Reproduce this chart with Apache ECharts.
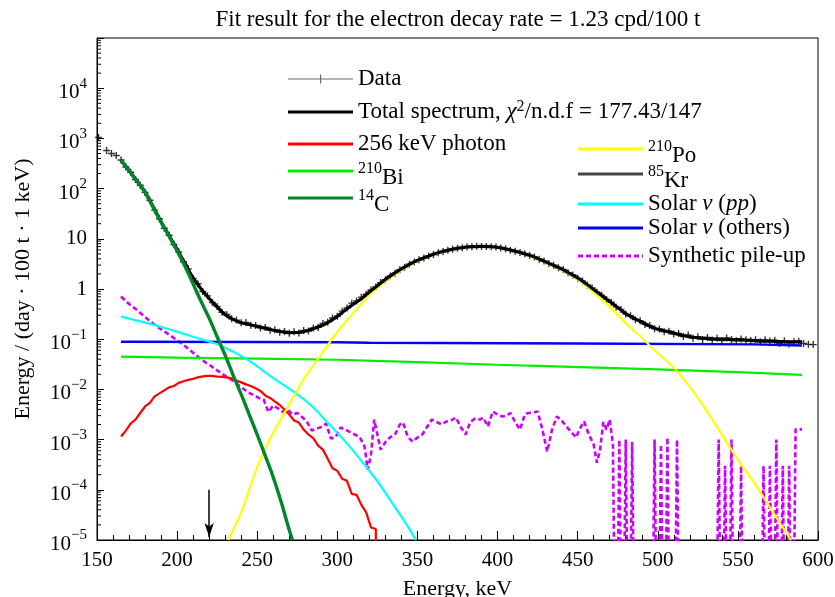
<!DOCTYPE html>
<html><head><meta charset="utf-8">
<script src="https://cdn.jsdelivr.net/npm/echarts@6/dist/echarts.min.js"></script>
<style>html,body{margin:0;padding:0;background:#fff}#c{width:835px;height:597px}</style>
</head><body><div id="c"></div>
<script>
// ---------------- data ----------------
const TITLE = 'Fit result for the electron decay rate = 1.23 cpd/100 t';
const X_TITLE = 'Energy, keV';
const Y_TITLE = 'Energy / (day · 100 t · 1 keV)';

const DATA_E = [151,156,159,162,165,168,171,174,177,180,183,186,189,192,195,198,201,204,207,210,213,216,219,222,225,228,231,234,237,240,243,246,249,252,255,258,261,264,267,270,273,276,279,282,285,288,291,294,297,300,303,306,309,312,315,318,321,324,327,330,333,336,339,342,345,348,351,354,357,360,363,366,369,372,375,378,381,384,387,390,393,396,399,402,405,408,411,414,417,420,423,426,429,432,435,438,441,444,447,450,453,456,459,462,465,468,471,474,477,480,483,486,489,492,495,498,501,504,507,510,513,516,519,522,525,528,531,534,537,540,543,546,549,552,555,558,561,564,567,570,573,576,579,582,585,588,591,594,597];
const DATA_V = [1040,575,500,455,372,270,212,152,117,84,58.5,37.2,25.0,16.2,11.8,7.7,5.5,3.5,2.52,1.62,1.27,0.89,0.73,0.54,0.45,0.345,0.31,0.255,0.24,0.212,0.215,0.19,0.188,0.168,0.171,0.150,0.155,0.137,0.142,0.131,0.140,0.133,0.149,0.146,0.168,0.172,0.205,0.218,0.265,0.288,0.362,0.420,0.522,0.580,0.688,0.785,0.955,1.10,1.34,1.53,1.82,2.07,2.42,2.70,3.11,3.45,3.82,4.15,4.55,4.87,5.28,5.60,5.92,6.21,6.49,6.65,6.90,6.95,7.08,7.05,7.06,6.92,6.84,6.55,6.34,5.94,5.68,5.32,5.04,4.65,4.34,3.93,3.61,3.22,2.98,2.65,2.44,2.10,1.91,1.63,1.45,1.20,1.05,0.86,0.755,0.62,0.545,0.44,0.392,0.316,0.293,0.245,0.233,0.197,0.187,0.162,0.160,0.141,0.144,0.127,0.130,0.113,0.121,0.104,0.112,0.099,0.108,0.096,0.105,0.094,0.106,0.099,0.093,0.101,0.097,0.094,0.098,0.089,0.097,0.092,0.095,0.082,0.093,0.080,0.089,0.091,0.082,0.079,0.078];

const TOTAL_E = [165,170,175,180,185,190,195,200,205,210,215,220,225,230,235,240,245,250,255,260,265,270,275,280,285,290,295,300,305,310,315,320,325,330,335,340,345,350,355,360,365,370,375,380,385,390,395,400,405,410,415,420,425,430,435,440,445,450,455,460,465,470,475,480,485,490,495,500,505,510,515,520,525,530,535,540,550,560,570,580,590];
const TOTAL_V = [367,229,141,85,43.6,21.9,11.6,6.17,3.2,1.66,1.0,0.646,0.437,0.306,0.248,0.212,0.196,0.180,0.166,0.151,0.141,0.135,0.136,0.145,0.162,0.185,0.225,0.285,0.38,0.50,0.64,0.875,1.16,1.55,2.0,2.51,3.09,3.72,4.27,4.90,5.50,6.03,6.46,6.84,7.00,7.08,7.00,6.76,6.31,5.75,5.25,4.68,4.07,3.47,2.95,2.51,2.04,1.66,1.29,0.977,0.741,0.562,0.427,0.324,0.263,0.219,0.182,0.158,0.145,0.132,0.120,0.112,0.107,0.1035,0.1015,0.100,0.0977,0.0933,0.0912,0.0891,0.0881];

const PHOTON_E = [165,168,171,174,177,180,183,186,189,192,195,198,201,204,207,210,213,216,219,222,225,228,231,234,237,240,243,246,249,252,255,258,261,264,267,270,273,276,279,282,285,288,291,294,297,300,303,306,309,312,315,318,321,324,325];
const PHOTON_V = [0.00115,0.00151,0.00209,0.00251,0.00339,0.00457,0.00537,0.00724,0.00832,0.00955,0.0110,0.0117,0.0135,0.0145,0.0155,0.0162,0.0174,0.0182,0.0186,0.0186,0.0180,0.0178,0.0174,0.0166,0.0151,0.0138,0.0126,0.0117,0.0105,0.00933,0.00759,0.00676,0.00575,0.0049,0.00398,0.00316,0.0024,0.00219,0.00158,0.00126,0.00107,0.000759,0.000631,0.000417,0.000269,0.00024,0.000166,0.000151,0.0000832,0.0000794,0.0000501,0.0000355,0.0000178,0.0000166,0];

const BI_E = [165,200,250,300,350,400,430,500,550,590];
const BI_V = [0.045,0.043,0.041,0.039,0.035,0.031,0.029,0.025,0.022,0.0195];

const C14_E = [165,170,175,180,185,190,195,200,205,210,215,220,225,230,235,240,245,250,255,260,265,270,272];
const C14_V = [367,229,141,85,42.7,21.4,11.2,5.75,2.82,1.26,0.562,0.263,0.112,0.0479,0.0191,0.00794,0.00316,0.00126,0.000479,0.000178,0.0000562,0.0000158,0.00001];

const PO_E = [232,240,250,260,270,280,290,300,310,320,330,340,350,360,370,380,390,400,410,420,430,440,450,460,470,480,490,500,510,520,530,540,550,560,570,583];
const PO_V = [0.00001,0.0000355,0.000282,0.00138,0.00501,0.0178,0.0501,0.141,0.331,0.759,1.42,2.38,3.59,4.77,5.90,6.71,6.95,6.63,5.62,4.55,3.35,2.39,1.54,0.857,0.442,0.209,0.107,0.0525,0.0269,0.0112,0.00398,0.00126,0.000398,0.000141,0.0000447,0.00001];

const KR_E = [];
const KR_V = [];

const PP_E = [165,175,185,195,205,215,225,235,245,255,265,275,285,295,305,315,325,335,345,349];
const PP_V = [0.282,0.234,0.195,0.158,0.126,0.100,0.0794,0.0562,0.0372,0.0219,0.0132,0.00794,0.00437,0.0020,0.000912,0.00038,0.000148,0.0000501,0.0000166,0.00001];

const OTH_E = [165,250,300,320,450,560,590];
const OTH_V = [0.089,0.088,0.087,0.085,0.082,0.079,0.075];

const PILE_E = [165,170,175,180,185,190,195,200,205,210,215,220,225,230,235,240,244,248,251,254,257,260,263,266,269,272,275,278,281,284,287,290,293,296,299,302,305,308,311,314,317,319,321,323,325,327,330,333,336,339,341,344,347,350,353,356,359,362,365,368,371,374,377,380,383,386,389,391,394,397,400,403,406,408,411,414,417,419,422,425,428,431,434,437,440,443,446,449,451,454,457,460,462,464,466,468,470,472,474,476,478,480,482,484,486,496,498,500,502,504,506,508,510,512,514,536,538,540,542,544,546,548,550,552,554,564,566,568,570,572,574,576,578,580,582,584,586,590];
const PILE_V = [0.708,0.501,0.380,0.275,0.204,0.158,0.123,0.0955,0.0724,0.0537,0.0398,0.0309,0.0240,0.0186,0.0148,0.0110,0.00891,0.00759,0.00676,0.00631,0.00355,0.00479,0.00417,0.00355,0.00398,0.00316,0.00339,0.00282,0.00229,0.00151,0.00166,0.00178,0.00209,0.00105,0.00112,0.00174,0.00158,0.00141,0.00126,0.00112,0.000724,0.000251,0.000501,0.00251,0.00126,0.000631,0.000891,0.00112,0.00126,0.00200,0.00219,0.00112,0.000912,0.00110,0.00126,0.00178,0.00251,0.00224,0.00200,0.00229,0.00240,0.00275,0.00178,0.00126,0.00224,0.00263,0.00251,0.00275,0.00182,0.00363,0.00316,0.00288,0.00302,0.00339,0.00224,0.00158,0.00316,0.00339,0.00347,0.00363,0.00158,0.000575,0.00158,0.00288,0.00240,0.00182,0.00141,0.00110,0.00158,0.00229,0.00126,0.000794,0.000347,0.000631,0.00224,0.00158,0.00251,0.000794,0,0.001,0,0.001,0,0.0009,0,0,0.001,0,0.0008,0,0.0011,0,0,0.001,0,0,0.001,0,0.0003,0,0.001,0,0,0.0003,0,0,0.0003,0,0.0003,0,0.001,0,0.0003,0,0.0003,0,0.0016,0.0016];

const X_MIN = 150, X_MAX = 600, X_STEP = 50;
const Y_MIN = 1e-5, Y_MAX = 1e5;
const Y_DECADES = [1e-5,1e-4,1e-3,1e-2,1e-1,1,10,100,1000,10000];
const Y_MINOR_MULT = [2,3,4,5,6,7,8,9];
const ARROW_E = 220, ARROW_TOP = 1e-4, ARROW_TIP = 1.15e-5;

// ---------------- chart ----------------
const FONT = '"Liberation Serif", "Times New Roman", serif';
const FLOOR = 1e-9; // empty bins drawn below the axis floor (clipped)
const zip = (xs, ys) => xs.map((x, i) => [x, ys[i] > 0 ? ys[i] : FLOOR]);
const minorTicks = [];
Y_DECADES.forEach(d => Y_MINOR_MULT.forEach(m => minorTicks.push([X_MIN, d * m])));

const ICON_DATA = 'path://M0,4h65v1.2h-65z M32,0h1.2v9.2h-1.2z';
let dash = '';
for (let x = 0; x < 62; x += 8) dash += 'M' + x + ',0h5v3h-5z ';
dash += 'M64,0h1v3h-1z';
const ICON_DASH = 'path://' + dash;

const NAMES = {
  data: 'Data', total: 'Total spectrum', photon: '256 keV photon', bi: '210Bi', c14: '14C',
  po: '210Po', kr: '85Kr', pp: 'Solar pp', oth: 'Solar others', pile: 'Synthetic pile-up'
};
const LABELS = {};
LABELS[NAMES.data] = 'Data';
LABELS[NAMES.total] = '{m|Total spectrum, }{mi|χ}{s2|2}{m|/n.d.f = 177.43/147}';
LABELS[NAMES.photon] = '256 keV photon';
LABELS[NAMES.bi] = '{s|210}{b|Bi}';
LABELS[NAMES.c14] = '{s|14}{b|C}';
LABELS[NAMES.po] = '{s|210}{b|Po}';
LABELS[NAMES.kr] = '{s|85}{b|Kr}';
LABELS[NAMES.pp] = '{m|Solar }{mi|ν}{m| (}{mi|pp}{m|)}';
LABELS[NAMES.oth] = '{m|Solar }{mi|ν}{m| (others)}';
LABELS[NAMES.pile] = 'Synthetic pile-up';

const COLORS = {
  data: '#000000', total: '#000000', photon: '#ff0000', bi: '#00ee00', c14: '#00862b',
  po: '#ffff00', kr: '#444444', pp: '#00ffff', oth: '#0000ff', pile: '#cc00ff'
};

const LFS = 23, LSUP = 16, LH = 30, LH_SUP = 36;
const legendText = {
  fontFamily: FONT, fontSize: LFS, color: '#000', lineHeight: LH,
  rich: {
    m: {fontFamily: FONT, fontSize: LFS, color: '#000', lineHeight: LH, verticalAlign: 'middle'},
    mi: {fontFamily: FONT, fontSize: LFS, color: '#000', lineHeight: LH, verticalAlign: 'middle', fontStyle: 'italic'},
    s2: {fontFamily: FONT, fontSize: LSUP, color: '#000', lineHeight: LH, verticalAlign: 'top', padding: [2, 0, 0, 0]},
    b: {fontFamily: FONT, fontSize: LFS, color: '#000', lineHeight: LH_SUP, verticalAlign: 'bottom'},
    s: {fontFamily: FONT, fontSize: LSUP, color: '#000', lineHeight: LH_SUP, verticalAlign: 'top', padding: [8, 0, 0, 0]}
  }
};
const LEGEND_ROWS = [
  {key: 'data', left: 288, cy: 79, icon: ICON_DATA, h: 9.2, color: '#444', box: LH},
  {key: 'total', left: 288, cy: 112, icon: 'rect', h: 3, box: LH},
  {key: 'photon', left: 288, cy: 144, icon: 'rect', h: 3, box: LH},
  {key: 'bi', left: 288, cy: 171, icon: 'rect', h: 3, box: LH_SUP},
  {key: 'c14', left: 288, cy: 198, icon: 'rect', h: 3, box: LH_SUP},
  {key: 'po', left: 578, cy: 149, icon: 'rect', h: 3, box: LH_SUP},
  {key: 'kr', left: 578, cy: 174, icon: 'rect', h: 3, box: LH_SUP},
  {key: 'pp', left: 578, cy: 204, icon: 'rect', h: 3, box: LH},
  {key: 'oth', left: 578, cy: 228, icon: 'rect', h: 3, box: LH},
  {key: 'pile', left: 578, cy: 256, icon: ICON_DASH, h: 3, box: LH}
];
const legends = LEGEND_ROWS.map(r => ({
  data: [r.color ? {name: NAMES[r.key], itemStyle: {color: r.color}} : NAMES[r.key]],
  left: r.left, top: r.cy - r.box / 2, orient: 'horizontal', padding: 0, itemGap: 0,
  itemWidth: 65, itemHeight: r.h, icon: r.icon, selectedMode: false,
  itemStyle: {borderWidth: 0},
  formatter: n => LABELS[n],
  textStyle: legendText
}));

function lineSeries(key, xs, ys, width, extra) {
  return Object.assign({
    type: 'line', name: NAMES[key], data: zip(xs, ys), showSymbol: false, symbol: 'none',
    color: COLORS[key], itemStyle: {color: COLORS[key]},
    lineStyle: {color: COLORS[key], width: width}, clip: true, silent: true, animation: false
  }, extra || {});
}

const TFS = 21;
const yLabelRich = {
  b: {fontFamily: FONT, fontSize: TFS, color: '#000', lineHeight: 30, verticalAlign: 'bottom'},
  s: {fontFamily: FONT, fontSize: 15, color: '#000', lineHeight: 30, verticalAlign: 'top', padding: [3, 0, 0, 0]}
};

const option = {
  backgroundColor: '#fff',
  animation: false,
  title: {
    text: TITLE, left: 453, top: 3, textAlign: 'center',
    textStyle: {fontFamily: FONT, fontSize: 23, fontWeight: 'normal', color: '#000'}
  },
  legend: legends,
  grid: {
    left: 97, right: 17, top: 38, bottom: 57, show: true, borderColor: '#000', borderWidth: 1,
    containLabel: false, outerBoundsMode: 'none'
  },
  xAxis: {
    type: 'value', min: X_MIN, max: X_MAX, interval: X_STEP,
    axisLine: {show: true, onZero: false, lineStyle: {color: '#000', width: 1}},
    axisTick: {show: true, inside: true, length: 9, lineStyle: {color: '#000'}},
    minorTick: {show: true, splitNumber: 5, length: 5, lineStyle: {color: '#000'}},
    axisLabel: {fontFamily: FONT, fontSize: TFS, color: '#000', margin: 10},
    splitLine: {show: false},
    name: X_TITLE, nameLocation: 'middle', nameGap: 38,
    nameTextStyle: {fontFamily: FONT, fontSize: 22, color: '#000'}
  },
  yAxis: {
    type: 'log', logBase: 10, min: Y_MIN, max: Y_MAX, interval: 1,
    axisLine: {show: true, onZero: false, lineStyle: {color: '#000', width: 1}},
    axisTick: {show: true, inside: true, length: 7, lineStyle: {color: '#000'}},
    axisLabel: {
      fontFamily: FONT, fontSize: TFS, color: '#000', margin: 10, rich: yLabelRich,
      formatter: v => {
        const e = Math.round(Math.log10(v));
        if (e >= 5) return '';
        if (e === 0) return '1';
        if (e === 1) return '10';
        return '{b|10}{s|' + (e < 0 ? '\u2212' + (-e) : e) + '}';
      }
    },
    splitLine: {show: false},
    name: Y_TITLE, nameLocation: 'middle', nameGap: 63,
    nameTextStyle: {fontFamily: FONT, fontSize: 22, color: '#000'}
  },
  series: [
    {
      type: 'custom', name: 'yminor', silent: true, data: minorTicks, clip: false,
      renderItem: (params, api) => {
        const p = api.coord([api.value(0), api.value(1)]);
        return {type: 'line', shape: {x1: p[0], y1: p[1], x2: p[0] + 4, y2: p[1]}, style: {stroke: '#000', lineWidth: 1}};
      }
    },
    lineSeries('pile', PILE_E, PILE_V, 2.6, {lineStyle: {color: COLORS.pile, width: 2.6, type: [5, 3]}}),
    lineSeries('photon', PHOTON_E, PHOTON_V, 2.2),
    lineSeries('bi', BI_E, BI_V, 2.2),
    lineSeries('oth', OTH_E, OTH_V, 2.4),
    lineSeries('pp', PP_E, PP_V, 2.2, {smooth: 0.3}),
    lineSeries('po', PO_E, PO_V, 2.2, {smooth: 0.3}),
    lineSeries('kr', KR_E, KR_V, 2.2),
    lineSeries('total', TOTAL_E, TOTAL_V, 3.2, {smooth: 0.3}),
    lineSeries('c14', C14_E, C14_V, 3.4, {smooth: 0.3}),
    {
      type: 'scatter', name: NAMES.data, data: zip(DATA_E, DATA_V), silent: true,
      symbol: 'path://M0,3.2h8v1.6h-8z M3.2,0h1.6v8h-1.6z', symbolSize: 7,
      itemStyle: {color: COLORS.data}, color: COLORS.data, animation: false
    },
    {
      type: 'line', name: 'arrow', data: [], silent: true,
      markLine: {
        silent: true, animation: false, symbol: ['none', 'arrow'], symbolSize: [7, 14],
        lineStyle: {color: '#000', width: 1.5, type: 'solid'}, label: {show: false},
        data: [[{coord: [ARROW_E, ARROW_TOP]}, {coord: [ARROW_E, ARROW_TIP]}]]
      }
    }
  ]
};

const chart = echarts.init(document.getElementById('c'), null, {renderer: 'canvas'});
chart.setOption(option);
</script>
</body></html>
